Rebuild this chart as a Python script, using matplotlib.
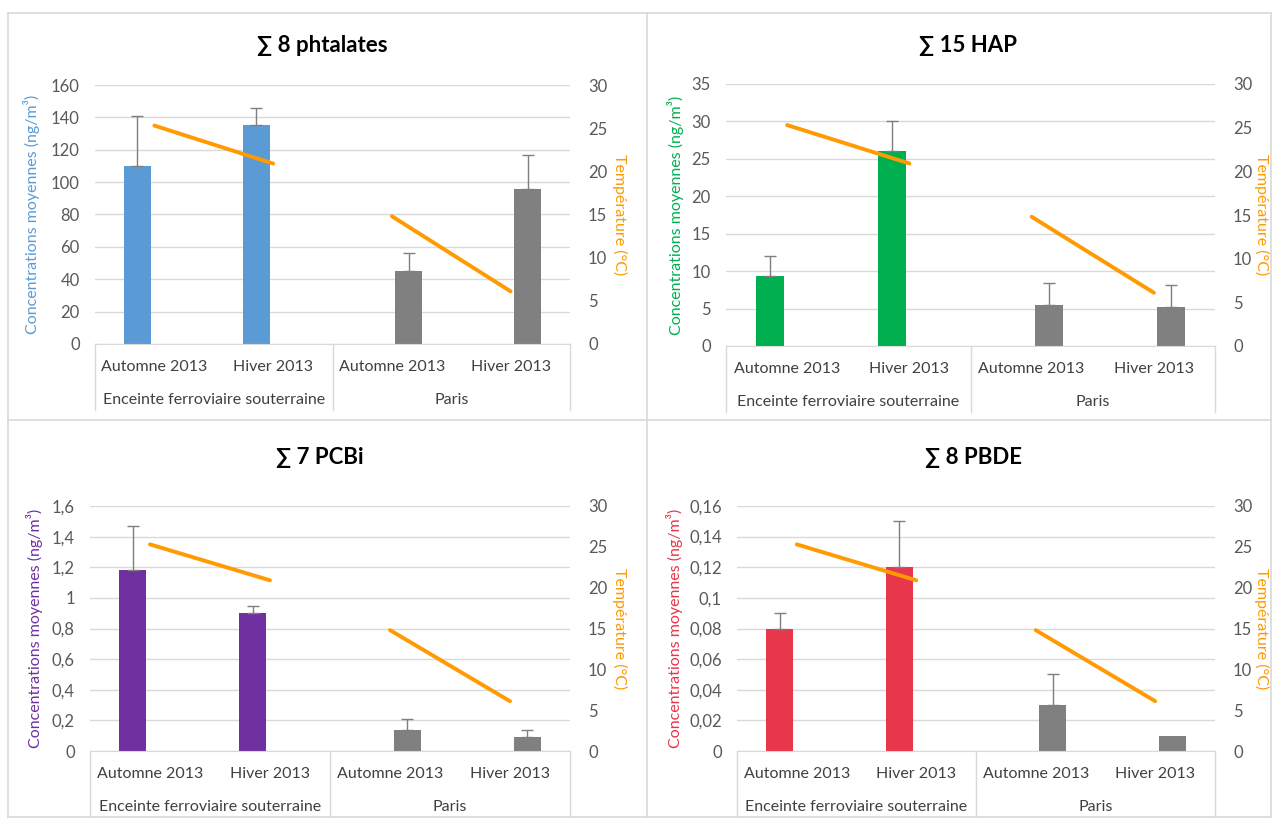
import matplotlib.pyplot as plt
from matplotlib.ticker import FuncFormatter, MultipleLocator
from matplotlib.lines import Line2D
import numpy as np

plt.rcParams['font.family'] = ['Lato', 'DejaVu Sans']

W, H = 1272, 818

# ---- data ----
saisons = ["Automne 2013", "Hiver 2013", "Automne 2013", "Hiver 2013"]
sites = ["Enceinte ferroviaire souterraine", "Paris"]
temperature = [25.3, 20.9, 14.8, 6.1]

titres = ["∑ 8 phtalates", "∑ 15 HAP", "∑ 7 PCBi", "∑ 8 PBDE"]
phtalates = [110, 135, 45, 96]
phtalates_err = [31, 11, 11, 21]
hap = [9.3, 26.1, 5.5, 5.2]
hap_err = [2.7, 3.9, 2.9, 3.0]
pcbi = [1.18, 0.90, 0.14, 0.09]
pcbi_err = [0.29, 0.05, 0.07, 0.05]
pbde = [0.08, 0.12, 0.03, 0.01]
pbde_err = [0.01, 0.03, 0.02, 0.0]

ymax = [160, 35, 1.6, 0.16]
ystep = [20, 5, 0.2, 0.02]
couleurs = ["#5B9BD5", "#00B050", "#7030A0", "#E8364A"]
GRIS = "#808080"
ORANGE = "#FF9A00"

# pixel layout of each panel: plot area (left, right, top, bottom), title y, ylabel x, right label x
panneaux = [
    dict(l=95, r=570, t=85, b=344, ty=45, ylx=32, rlx=620),
    dict(l=726, r=1215, t=84, b=346, ty=45, ylx=676, rlx=1262),
    dict(l=90, r=570, t=506, b=751, ty=457, ylx=35, rlx=620),
    dict(l=737, r=1215, t=506, b=751, ty=457, ylx=674, rlx=1262),
]
valeurs = [phtalates, hap, pcbi, pbde]
erreurs = [phtalates_err, hap_err, pcbi_err, pbde_err]

fig = plt.figure(figsize=(W / 100, H / 100), dpi=100)


def fx(px):
    return px / W


def fy(py):
    return 1 - py / H


def fmt_fr(v, pos):
    return ("%g" % round(v, 6)).replace(".", ",")


# panel borders
bord = "#D9D9D9"
for xs, ys in [([8, 1271], [13, 13]), ([8, 1271], [817, 817]), ([8, 8], [13, 817]),
               ([1271, 1271], [13, 817]), ([647, 647], [13, 817]), ([8, 1271], [420, 420])]:
    fig.add_artist(Line2D([fx(x) for x in xs], [fy(y) for y in ys], color=bord, lw=1.2))

x = np.arange(4)
for i, p in enumerate(panneaux):
    ax = fig.add_axes([fx(p["l"]), fy(p["b"]), fx(p["r"] - p["l"]), (p["b"] - p["t"]) / H])
    ax2 = ax.twinx()
    ax.set_zorder(ax2.get_zorder() - 1)
    ax2.patch.set_visible(False)

    vals = valeurs[i]
    errs = erreurs[i]
    # series coloured (site 1) on left slot, grey (Paris) on right slot
    off = [-0.143, -0.143, 0.143, 0.143]
    cols = [couleurs[i], couleurs[i], GRIS, GRIS]
    for k in range(4):
        ax.bar(x[k] + off[k], vals[k], width=0.227, color=cols[k], zorder=2)
        if errs[k] > 0:
            ax.errorbar(x[k] + off[k], vals[k], yerr=[[0], [errs[k]]], fmt="none",
                        ecolor="#7F7F7F", elinewidth=1, capsize=4, capthick=1, zorder=3)

    ax.set_xlim(-0.5, 3.5)
    ax.set_ylim(0, ymax[i])
    ax.yaxis.set_major_locator(MultipleLocator(ystep[i]))
    ax.yaxis.set_major_formatter(FuncFormatter(fmt_fr))
    ax.grid(axis="y", color="#D9D9D9", lw=1, zorder=0)
    ax.set_axisbelow(True)
    ax.set_xticks([])
    for s in ["top", "right", "left"]:
        ax.spines[s].set_visible(False)
    ax.spines["bottom"].set_color("#D9D9D9")
    ax.tick_params(axis="y", length=0, pad=11, labelsize=12, labelcolor="#595959")

    # temperature on secondary axis
    ax2.plot(x[:2], temperature[:2], color=ORANGE, lw=2.8, solid_capstyle="round", zorder=4)
    ax2.plot(x[2:], temperature[2:], color=ORANGE, lw=2.8, solid_capstyle="round", zorder=4)
    ax2.set_ylim(0, 30)
    ax2.yaxis.set_major_locator(MultipleLocator(5))
    for s in ax2.spines.values():
        s.set_visible(False)
    ax2.tick_params(axis="y", length=0, pad=13, labelsize=12, labelcolor="#595959")

    # category labels and group boxes
    trans = ax.get_xaxis_transform()
    h_ax = p["b"] - p["t"]
    for k in range(4):
        ax.text(x[k], -23 / h_ax, saisons[k], transform=trans, ha="center", va="center",
                fontsize=11.5, color="#404040")
    ax.text(0.5, -56 / h_ax, sites[0], transform=trans, ha="center", va="center",
            fontsize=11.5, color="#404040")
    ax.text(2.5, -56 / h_ax, sites[1], transform=trans, ha="center", va="center",
            fontsize=11.5, color="#404040")
    for xv in [-0.5, 1.5, 3.5]:
        ax.plot([xv, xv], [0, -66 / h_ax], transform=trans, color="#D9D9D9", lw=1,
                clip_on=False)

    # titles and axis labels
    cx = (p["l"] + p["r"]) / 2 + (322 - 332.5 if i % 2 == 0 else -2.5)
    fig.text(fx(cx), fy(p["ty"]), titres[i], ha="center", va="center", fontsize=16,
             fontweight="bold", color="black")
    cy = (p["t"] + p["b"]) / 2
    fig.text(fx(p["ylx"]), fy(cy), "Concentrations moyennes (ng/m³)", rotation=90,
             ha="center", va="center", fontsize=11.5, color=couleurs[i])
    fig.text(fx(p["rlx"]), fy(cy), "Température (°C)", rotation=-90,
             ha="center", va="center", fontsize=11.5, color=ORANGE)

fig.savefig("out.png", dpi=100, facecolor="white")
